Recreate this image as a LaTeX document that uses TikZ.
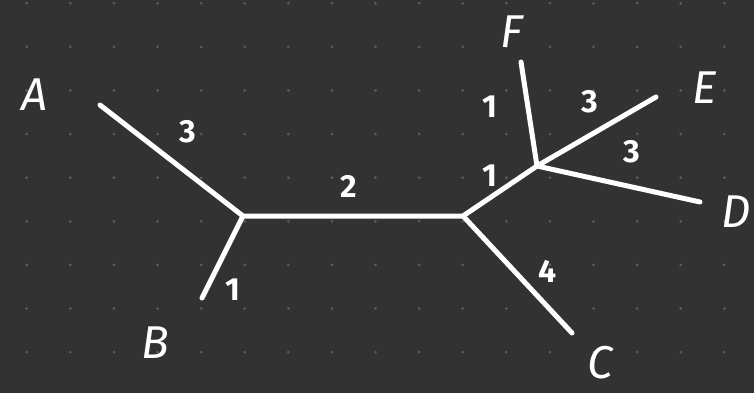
\documentclass[tikz,border=0pt]{standalone}
\usepackage{fontspec}
\setmainfont{Fira Sans}
\usetikzlibrary{positioning}
\definecolor{board}{HTML}{323232}
\definecolor{dotgray}{HTML}{5C5C5C}

\begin{document}
\begin{tikzpicture}[
            x=1pt, y=-1pt,
            branch/.style={draw=white, line width=5pt, line cap=round, line join=round},
            leaf/.style={text=white, inner sep=0pt, font=\fontsize{46}{52}\selectfont\itshape},
            weight/.style={text=white, inner sep=0pt, font=\fontsize{32}{36}\selectfont\bfseries}
        ]
            % board and dot grid
            \fill[board] (0,0) rectangle (754,393);
            \useasboundingbox (0,0) rectangle (754,393);
            \foreach \i in {0,...,16}
                \foreach \j in {0,...,9}
                    \fill[dotgray] (26.7+43.6*\i, 3.3+43.6*\j) circle (1.5pt);

            % inner vertices
            \coordinate (u) at (243,216);
            \coordinate (v) at (463,216);
            \coordinate (w) at (537,166);

            % leaf ends
            \coordinate (a) at (100,105);
            \coordinate (b) at (202,298);
            \coordinate (c) at (572,333);
            \coordinate (d) at (700,202);
            \coordinate (e) at (656,97);
            \coordinate (f) at (521,62);

            \node[leaf] (lA) at (35,95) {A};
            \node[leaf] (lB) at (155,343) {B};
            \node[leaf] (lC) at (600,363) {C};
            \node[leaf] (lD) at (736,212) {D};
            \node[leaf] (lE) at (705,88) {E};
            \node[leaf] (lF) at (512,32) {F};

            \path[branch] (a) -- (u) -- (b);
            \path[branch] (u) -- (v) -- (c);
            \path[branch] (v) -- (w) -- (f);
            \path[branch] (e) -- (w) -- (d);

            \node[weight] (wA) at (188,132) {3};
            \node[weight] (wB) at (233,290) {1};
            \node[weight] (wuv) at (349,186) {2};
            \node[weight] (wvw) at (490,176) {1};
            \node[weight] (wF) at (490,107) {1};
            \node[weight] (wE) at (590,102) {3};
            \node[weight] (wD) at (632,152) {3};
            \node[weight] (wC) at (548,271) {4};
        \end{tikzpicture}
\end{document}
